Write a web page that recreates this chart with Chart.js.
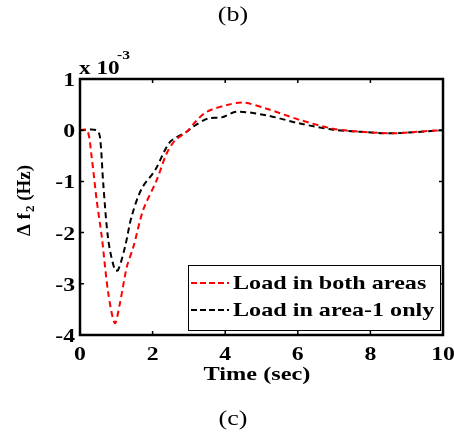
<!DOCTYPE html>
<html>
<head>
<meta charset="UTF-8">
<title>Delta f2 response</title>
<script src="https://cdn.jsdelivr.net/npm/chart.js@4.4.0/dist/chart.umd.min.js"></script>
<style>
  html, body { margin: 0; padding: 0; background: #fff; }
  #wrap { width: 454px; height: 434px; }
</style>
</head>
<body>
<div id="wrap"><canvas id="c" width="454" height="434"></canvas></div>
<script>
// values in units of 1e-3 Hz
const timeBoth = [0, 0.2, 0.32, 0.46, 0.6, 0.78, 0.96, 1.1, 1.29, 1.47, 1.74, 2.11, 2.39, 2.62, 2.94, 3.2, 3.49, 4.04, 4.5, 5.14, 6.06, 6.97, 7.71, 8.62, 9.27, 10];
const dfBoth   = [0, 0, -0.52, -1.37, -2.08, -3.19, -3.77, -3.38, -2.67, -2.28, -1.56, -0.98, -0.45, -0.2, -0.03, 0.18, 0.36, 0.49, 0.54, 0.42, 0.2, 0.03, -0.03, -0.06, -0.03, 0];
const timeArea1 = [0, 0.46, 0.55, 0.64, 0.78, 0.96, 1.05, 1.24, 1.42, 1.7, 2.07, 2.48, 2.94, 3.12, 3.53, 3.9, 4.31, 5.14, 6.06, 6.97, 7.71, 8.62, 10];
const dfArea1   = [0, 0, -0.13, -1.04, -2.15, -2.73, -2.73, -2.28, -1.69, -1.14, -0.78, -0.23, -0.03, 0.07, 0.23, 0.25, 0.36, 0.29, 0.13, 0.01, -0.03, -0.06, 0];
const seriesNames = ['Load in both areas', 'Load in area-1 only'];
const xTicks = [0, 2, 4, 6, 8, 10];
const yTicks = [-4, -3, -2, -1, 0, 1];

const serif = '"Liberation Serif", "Times New Roman", serif';
const toPts = (xs, ys) => xs.map((x, i) => ({ x: x, y: ys[i] }));

// text is a bit wider than normal in the figure
function wideText(ctx, txt, x, y, font, align, sx) {
  ctx.save();
  ctx.font = font;
  ctx.textAlign = align;
  ctx.translate(x, y);
  ctx.scale(sx, 1);
  ctx.fillText(txt, 0, 0);
  ctx.restore();
}

// box, inward ticks, tick labels, texts and legend
const decor = {
  id: 'decor',
  afterDatasetsDraw(chart) {
    const ctx = chart.ctx;
    const a = chart.chartArea;
    const sx = chart.scales.x, sy = chart.scales.y;
    const bold = 'bold 19px ' + serif;
    ctx.save();
    ctx.strokeStyle = '#000';
    ctx.fillStyle = '#000';
    ctx.textBaseline = 'middle';
    ctx.lineWidth = 1.5;
    xTicks.forEach(t => {
      const px = sx.getPixelForValue(t);
      ctx.beginPath();
      ctx.moveTo(px, a.bottom); ctx.lineTo(px, a.bottom - 4);
      ctx.moveTo(px, a.top); ctx.lineTo(px, a.top + 4);
      ctx.stroke();
      wideText(ctx, String(t), px, 355, bold, 'center', 1.25);
    });
    yTicks.forEach(t => {
      const py = sy.getPixelForValue(t);
      ctx.beginPath();
      ctx.moveTo(a.left, py); ctx.lineTo(a.left + 4, py);
      ctx.moveTo(a.right, py); ctx.lineTo(a.right - 4, py);
      ctx.stroke();
      wideText(ctx, String(t), 75, py + 2, bold, 'right', 1.25);
    });
    ctx.lineWidth = 2.5;
    ctx.strokeRect(a.left, a.top, a.right - a.left, a.bottom - a.top);

    // legend
    const lx = 188, ly = 265, lw = 252, lh = 65;
    ctx.fillStyle = '#fff';
    ctx.fillRect(lx, ly, lw, lh);
    ctx.lineWidth = 1;
    ctx.strokeRect(lx + 0.5, ly + 0.5, lw, lh);
    const ds = chart.data.datasets;
    [283, 310].forEach((yy, i) => {
      ctx.strokeStyle = ds[i].borderColor;
      ctx.lineWidth = 1.8;
      ctx.setLineDash([6, 3]);
      ctx.beginPath();
      ctx.moveTo(191, yy); ctx.lineTo(229, yy);
      ctx.stroke();
      ctx.setLineDash([]);
      ctx.fillStyle = '#000';
      wideText(ctx, seriesNames[i], 233, yy + 1, bold, 'left', 1.27);
    });

    // exponent
    ctx.textBaseline = 'alphabetic';
    wideText(ctx, 'x 10', 79, 74, bold, 'left', 1.22);
    wideText(ctx, '-3', 117, 59, 'bold 13px ' + serif, 'left', 1.2);

    // titles
    ctx.textBaseline = 'middle';
    wideText(ctx, '(b)', 233, 16, '20px ' + serif, 'center', 1.3);
    wideText(ctx, '(c)', 233, 420, '20px ' + serif, 'center', 1.3);
    wideText(ctx, 'Time (sec)', 257, 375, bold, 'center', 1.28);

    // y label, rotated
    ctx.translate(25, 201);
    ctx.rotate(-Math.PI / 2);
    ctx.textAlign = 'left';
    const p1 = '\u0394 f', p3 = ' (Hz)';
    ctx.font = bold;
    const w1 = ctx.measureText(p1).width, w3 = ctx.measureText(p3).width;
    ctx.font = 'bold 13px ' + serif;
    const w2 = ctx.measureText('2').width;
    let x0 = -(w1 + w2 + w3) / 2;
    ctx.font = bold;
    ctx.fillText(p1, x0, 0);
    ctx.font = 'bold 13px ' + serif;
    ctx.fillText('2', x0 + w1 + 1, 6);
    ctx.font = bold;
    ctx.fillText(p3, x0 + w1 + w2 + 1, 0);
    ctx.restore();
  }
};

new Chart(document.getElementById('c'), {
  type: 'scatter',
  data: {
    datasets: [
      {
        label: seriesNames[0],
        data: toPts(timeBoth, dfBoth),
        showLine: true,
        borderColor: '#ff0000',
        borderWidth: 2,
        borderDash: [6, 4],
        pointRadius: 0,
        tension: 0.3
      },
      {
        label: seriesNames[1],
        data: toPts(timeArea1, dfArea1),
        showLine: true,
        borderColor: '#000000',
        borderWidth: 2,
        borderDash: [6, 4],
        pointRadius: 0,
        tension: 0.3
      }
    ]
  },
  options: {
    responsive: false,
    animation: false,
    layout: { padding: { top: 79, right: 11, left: 0, bottom: 0 } },
    plugins: { legend: { display: false }, tooltip: { enabled: false } },
    scales: {
      x: {
        type: 'linear', min: 0, max: 10,
        afterFit(s) { s.height = 99; s.paddingLeft = 0; s.paddingRight = 0; },
        grid: { display: false, drawTicks: false },
        border: { display: false },
        ticks: { display: false }
      },
      y: {
        min: -4, max: 1,
        afterFit(s) { s.width = 80; s.paddingTop = 0; s.paddingBottom = 0; },
        grid: { display: false, drawTicks: false },
        border: { display: false },
        ticks: { display: false }
      }
    }
  },
  plugins: [decor]
});
</script>
</body>
</html>
